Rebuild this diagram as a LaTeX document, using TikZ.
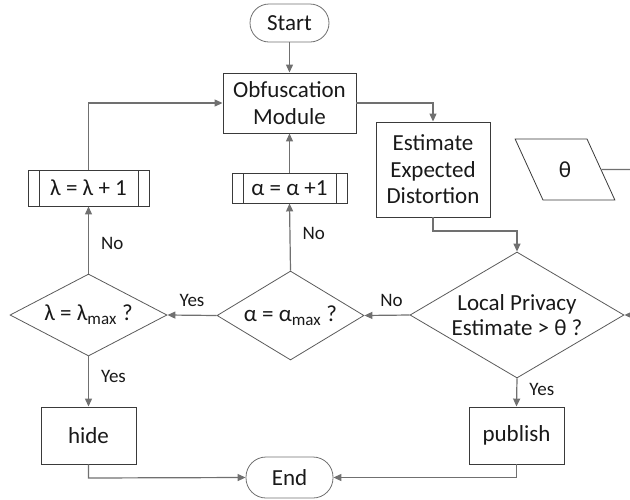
\documentclass[tikz,border=0pt]{standalone}
\usepackage{fontspec}
\setmainfont{Carlito}
\usetikzlibrary{arrows.meta,shapes.geometric,calc}
\definecolor{shapeline}{HTML}{3A3A3A}
\definecolor{connline}{HTML}{707070}
\definecolor{diaLine}{HTML}{5A5A5A}
\begin{document}
\begin{tikzpicture}[x=1pt,y=-1pt,
  every node/.style={font=\fontsize{23}{26.5}\selectfont, text=black!90, inner sep=0pt},
  term/.style={draw=connline, line width=0.8pt, rounded corners=19pt, minimum height=38pt},
  procbox/.style={draw=shapeline, line width=0.9pt, rectangle, align=center},
  predef/.style={draw=shapeline, line width=0.9pt, rectangle,
    path picture={
      \draw[shapeline, line width=0.9pt]
        ([xshift=11pt]path picture bounding box.north west) -- ([xshift=11pt]path picture bounding box.south west)
        ([xshift=-11pt]path picture bounding box.north east) -- ([xshift=-11pt]path picture bounding box.south east);}},
  decision/.style={draw=diaLine, line width=0.8pt, diamond, align=center},
  conn/.style={draw=connline, line width=1.2pt},
  arr/.style={conn, -{Triangle[length=8pt,width=7pt]}},
  lbl/.style={font=\fontsize{19}{21}\selectfont}
]
\useasboundingbox (0,0) rectangle (630,499);
\clip (0,0) rectangle (630,499);

% nodes
\node[term, minimum width=79pt] (start) at (289.5,23) {Start};
\node[procbox, minimum width=133pt, minimum height=60pt] (obf) at (289.5,103) {Obfuscation\\Module};
\node[procbox, minimum width=114pt, minimum height=95pt] (est) at (433,169.5) {Estimate\\Expected\\Distortion};
\node[trapezium, trapezium stretches=true, trapezium left angle=116, trapezium right angle=64,
      draw=shapeline, line width=0.8pt, minimum width=100pt, minimum height=61pt] (theta) at (565,169.5) {θ};
\node[decision, minimum width=214pt, minimum height=126pt,
      label={[align=center, font=\fontsize{23}{25.5}\selectfont]center:Local Privacy\\Estimate > θ ?}] (lp) at (517,315) {};
\node[decision, minimum width=147pt, minimum height=89pt,
      label={center:α = α\textsubscript{\fontsize{17}{18}\selectfont max} ?}] (da) at (290.5,315.5) {};
\node[decision, minimum width=157pt, minimum height=82pt,
      label={center:λ = λ\textsubscript{\fontsize{17}{18}\selectfont max} ?}] (dl) at (88.5,315) {};
\node[predef, minimum width=115pt, minimum height=30pt] (ainc) at (289.5,188) {α = α +1};
\node[predef, minimum width=121pt, minimum height=36pt] (linc) at (88.5,188) {λ = λ + 1};
\node[procbox, minimum width=95pt, minimum height=57pt] (hide) at (88.5,435.5) {hide};
\node[procbox, minimum width=95pt, minimum height=57pt] (pub) at (516.5,435.5) {publish};
\node[term, minimum width=87pt, minimum height=41pt, rounded corners=20pt] (end) at (289.5,477.5) {End};

% outside coordinates (cropped at the right edge)
\coordinate (thetaOut) at (640,169.5);
\coordinate (lpIn) at (645,315);

% connectors
\draw[arr] (start) -- (obf);
\draw[arr] (obf.east |- 0,103) -- (433,103) -- (est.north);
\draw[arr] (est.south) -- (433,231) -- (517,231) -- (lp.north);
\draw[conn] (theta.east) -- (thetaOut);
\draw[arr] (lpIn) -- (lp.east);
\draw[arr] (lp.west) -- node[lbl, above=8pt, pos=0.4] {No} (da.east);
\draw[arr] (lp.south) -- node[lbl, right=12pt, pos=0.4] {Yes} (pub.north);
\draw[arr] (da.north) -- node[lbl, right=12pt, pos=0.55] {No} (ainc.south);
\draw[arr] (ainc.north) -- (obf.south -| ainc.north);
\draw[arr] (da.west) -- node[lbl, above=8pt, pos=0.5] {Yes} (dl.east);
\draw[arr] (dl.north) -- node[lbl, right=12pt, pos=0.45] {No} (linc.south);
\draw[arr] (linc.north) -- (88.5,103) -- (obf.west);
\draw[arr] (dl.south) -- node[lbl, right=12pt, pos=0.4] {Yes} (hide.north);
\draw[arr] (hide.south) -- (88.5,478) -- (end.west);
\draw[arr] (pub.south) -- (516.5,477.5) -- (end.east);
\end{tikzpicture}
\end{document}
